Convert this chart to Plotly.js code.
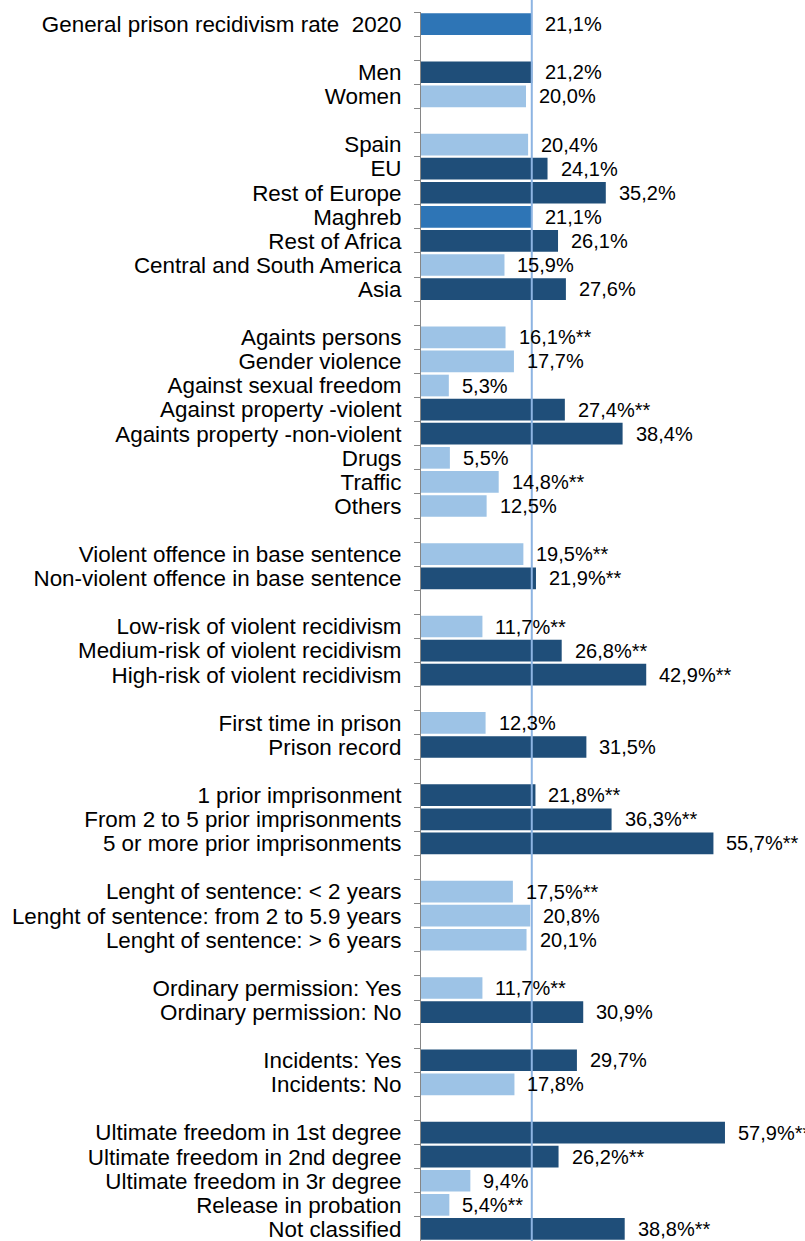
<!DOCTYPE html>
<html>
<head>
<meta charset="utf-8">
<script src="https://cdn.plot.ly/plotly-3.0.1.min.js"></script>
<style>html,body{margin:0;padding:0;background:#fff;}#chart{width:805px;height:1241px;}</style>
</head>
<body>
<div id="chart"></div>
<script>
// "" marks an empty spacer row between groups
const categories = [
  "General prison recidivism rate  2020", "",
  "Men", "Women", "",
  "Spain", "EU", "Rest of Europe", "Maghreb", "Rest of Africa", "Central and South America", "Asia", "",
  "Againts persons", "Gender violence", "Against sexual freedom", "Against property -violent",
  "Againts property -non-violent", "Drugs", "Traffic", "Others", "",
  "Violent offence in base sentence", "Non-violent offence in base sentence", "",
  "Low-risk of violent recidivism", "Medium-risk of violent recidivism", "High-risk of violent recidivism", "",
  "First time in prison", "Prison record", "",
  "1 prior imprisonment", "From 2 to 5 prior imprisonments", "5 or more prior imprisonments", "",
  "Lenght of sentence: < 2 years", "Lenght of sentence: from 2 to 5.9 years", "Lenght of sentence: > 6 years", "",
  "Ordinary permission: Yes", "Ordinary permission: No", "",
  "Incidents: Yes", "Incidents: No", "",
  "Ultimate freedom in 1st degree", "Ultimate freedom in 2nd degree", "Ultimate freedom in 3r degree",
  "Release in probation", "Not classified"
];
const values = [
  21.1, null,
  21.2, 20.0, null,
  20.4, 24.1, 35.2, 21.1, 26.1, 15.9, 27.6, null,
  16.1, 17.7, 5.3, 27.4, 38.4, 5.5, 14.8, 12.5, null,
  19.5, 21.9, null,
  11.7, 26.8, 42.9, null,
  12.3, 31.5, null,
  21.8, 36.3, 55.7, null,
  17.5, 20.8, 20.1, null,
  11.7, 30.9, null,
  29.7, 17.8, null,
  57.9, 26.2, 9.4, 5.4, 38.8
];
const significance = [
  "", "",
  "", "", "",
  "", "", "", "", "", "", "", "",
  "**", "", "", "**", "", "", "**", "", "",
  "**", "**", "",
  "**", "**", "**", "",
  "", "", "",
  "**", "**", "**", "",
  "**", "", "", "",
  "**", "", "",
  "", "", "",
  "**", "**", "", "**", "**"
];
const referenceRate = values[0];

const DARK = "#1F4E79", LIGHT = "#9DC3E6", MID = "#2E75B6";

// unique names for spacer rows
const yCats = categories.map((c, i) => c === "" ? "\u200b".repeat(i + 1) : c);
const xs = [], ys = [], cols = [];
values.forEach((v, i) => {
  if (v === null) return;
  xs.push(v); ys.push(yCats[i]);
  cols.push(v > referenceRate ? DARK : (v < referenceRate ? LIGHT : MID));
});

const annotations = [];
values.forEach((v, i) => {
  if (v === null) return;
  annotations.push({
    x: v, y: yCats[i], xref: "x", yref: "y",
    text: v.toFixed(1).replace(".", ",") + "%" + significance[i],
    showarrow: false, xanchor: "left", yanchor: "middle", xshift: 11,
    font: {family: "Liberation Sans, Arial, sans-serif", size: 20, color: "#000"}
  });
});

const trace = {
  type: "bar", orientation: "h",
  x: xs, y: ys,
  marker: {color: cols, line: {width: 0}},
  hoverinfo: "skip"
};

const layout = {
  width: 805, height: 1241,
  margin: {l: 421, r: 0, t: 12, b: 0, pad: 0},
  paper_bgcolor: "#fff", plot_bgcolor: "#fff",
  showlegend: false,
  bargap: 0.1,
  xaxis: {range: [0, 384 / 5.25], showgrid: false, zeroline: false, showticklabels: false, ticks: "", showline: false, fixedrange: true},
  yaxis: {
    type: "category", categoryorder: "array", categoryarray: yCats,
    range: [yCats.length - 0.5, -0.5],
    tickmode: "linear", tick0: 0, dtick: 1,
    showgrid: false, zeroline: false,
    showline: true, linecolor: "#868686", linewidth: 1,
    ticks: "outside", tickson: "boundaries", ticklen: 6, tickcolor: "#868686", tickwidth: 1,
    ticklabelstandoff: 14,
    tickfont: {family: "Liberation Sans, Arial, sans-serif", size: 22.4, color: "#000"},
    automargin: false,
    fixedrange: true
  },
  shapes: [{
    type: "line", xref: "x", yref: "paper",
    x0: referenceRate, x1: referenceRate, y0: 0, y1: 1.02,
    line: {color: "#8DB4E2", width: 2}, layer: "above"
  }],
  annotations: annotations
};

Plotly.newPlot("chart", [trace], layout, {displayModeBar: false, staticPlot: true});
</script>
</body>
</html>
